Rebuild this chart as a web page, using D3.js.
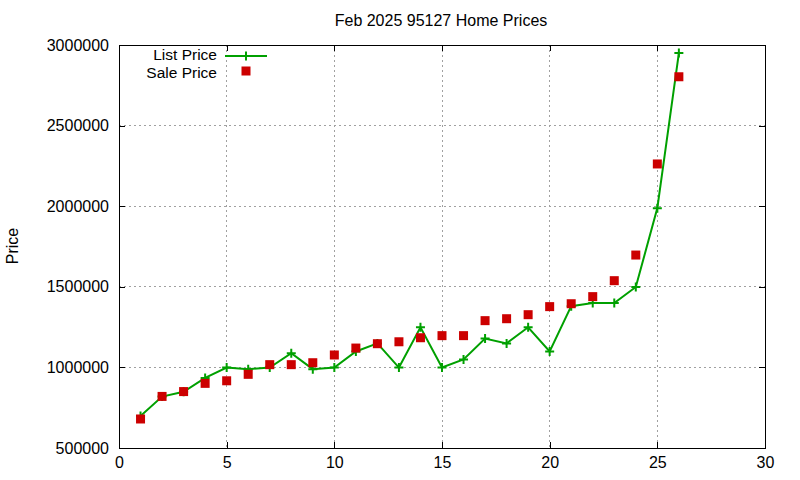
<!DOCTYPE html>
<html><head><meta charset="utf-8">
<script src="https://cdn.jsdelivr.net/npm/d3@7"></script>
<style>body{margin:0;background:#fff}svg{display:block}text{font-family:"Liberation Sans",Arial,sans-serif;fill:#000}</style>
</head><body><svg id="c" width="800" height="480"></svg>
<script>
const title = "Feb 2025 95127 Home Prices";
const yLabel = "Price";
const seriesNames = ["List Price", "Sale Price"];
const xIndex = [1,2,3,4,5,6,7,8,9,10,11,12,13,14,15,16,17,18,19,20,21,22,23,24,25,26];
const listPrice = [699000,819000,849000,935000,999000,989000,999000,1088000,989000,999000,1099000,1149000,999000,1249000,999000,1049000,1179000,1149000,1249000,1099000,1380000,1399000,1399000,1499000,1988000,2950000];
const salePrice = [680000,820000,850000,901000,917000,957000,1017000,1017000,1029000,1077000,1120000,1147000,1159000,1184000,1197000,1197000,1290000,1302000,1327000,1377000,1395000,1439000,1538000,1697000,2262000,2803000];
const xTicks = [0,5,10,15,20,25,30];
const yTicks = [500000,1000000,1500000,2000000,2500000,3000000];

const svg = d3.select("#c");
const L = 119, R = 765, T = 45, B = 448;
const x = d3.scaleLinear().domain([0,30]).range([L,R]);
const y = d3.scaleLinear().domain([500000,3000000]).range([B,T]);
const green = "#00a000", red = "#cc0000";
const fs = "16px";

// grid
const g = svg.append("g");
g.selectAll(".gx").data(xTicks.slice(1,-1)).join("line")
  .attr("x1",d=>x(d)).attr("x2",d=>x(d)).attr("y1",T).attr("y2",B)
  .attr("stroke","#a0a0a0").attr("stroke-dasharray","2,3").attr("shape-rendering","crispEdges");
g.selectAll(".gy").data(yTicks.slice(1,-1)).join("line")
  .attr("y1",d=>y(d)).attr("y2",d=>y(d)).attr("x1",L).attr("x2",R)
  .attr("stroke","#a0a0a0").attr("stroke-dasharray","2,3").attr("shape-rendering","crispEdges");

// axes (ticks inward, mirrored)
const tl = 6;
const axB = svg.append("g").attr("transform",`translate(0,${B})`).call(d3.axisBottom(x).tickValues(xTicks).tickSize(-tl).tickPadding(9).tickFormat(d3.format("d")));
const axT = svg.append("g").attr("transform",`translate(0,${T})`).call(d3.axisTop(x).tickValues(xTicks).tickSize(-tl).tickFormat(""));
const axL = svg.append("g").attr("transform",`translate(${L},0)`).call(d3.axisLeft(y).tickValues(yTicks).tickSize(-tl).tickPadding(10).tickFormat(d3.format("d")));
const axR = svg.append("g").attr("transform",`translate(${R},0)`).call(d3.axisRight(y).tickValues(yTicks).tickSize(-tl).tickFormat(""));
[axB,axT,axL,axR].forEach(a=>{
  a.select(".domain").remove();
  a.selectAll("line").attr("stroke","#000").attr("shape-rendering","crispEdges");
  a.selectAll("text").attr("font-size",fs).attr("font-family","Liberation Sans, Arial, sans-serif");
});
axB.selectAll("text").attr("dy","0.71em");
svg.append("rect").attr("x",L).attr("y",T).attr("width",R-L).attr("height",B-T)
  .attr("fill","none").attr("stroke","#000").attr("shape-rendering","crispEdges");

// title & label
svg.append("text").attr("x",441).attr("y",26).attr("text-anchor","middle").attr("font-size",fs).text(title);
svg.append("text").attr("transform","translate(18,246) rotate(-90)").attr("text-anchor","middle").attr("font-size",fs).text(yLabel);

// list line
const pts = xIndex.map((d,i)=>[d,listPrice[i]]);
svg.append("path").datum(pts).attr("fill","none").attr("stroke",green).attr("stroke-width",2)
  .attr("d",d3.line().x(d=>x(d[0])).y(d=>y(d[1])));
const plus = (sel,cx,cy,s)=>sel.append("path").attr("d",`M${cx-s},${cy}H${cx+s}M${cx},${cy-s}V${cy+s}`).attr("stroke",green).attr("stroke-width",2).attr("fill","none");
pts.forEach(d=>plus(svg,x(d[0]),y(d[1]),4.5));

// sale squares
svg.selectAll(".sq").data(xIndex.map((d,i)=>[d,salePrice[i]])).join("rect")
  .attr("x",d=>x(d[0])-4.5).attr("y",d=>y(d[1])-4.5).attr("width",9).attr("height",9).attr("fill",red);

// legend
svg.append("text").attr("x",217).attr("y",60).attr("text-anchor","end").attr("font-size","15.5px").text(seriesNames[0]);
svg.append("line").attr("x1",225).attr("x2",267).attr("y1",56).attr("y2",56).attr("stroke",green).attr("stroke-width",2);
plus(svg,246,56,4.5);
svg.append("text").attr("x",217).attr("y",78).attr("text-anchor","end").attr("font-size","15.5px").text(seriesNames[1]);
svg.append("rect").attr("x",246-4.5).attr("y",71-4.5).attr("width",9).attr("height",9).attr("fill",red);
</script></body></html>
